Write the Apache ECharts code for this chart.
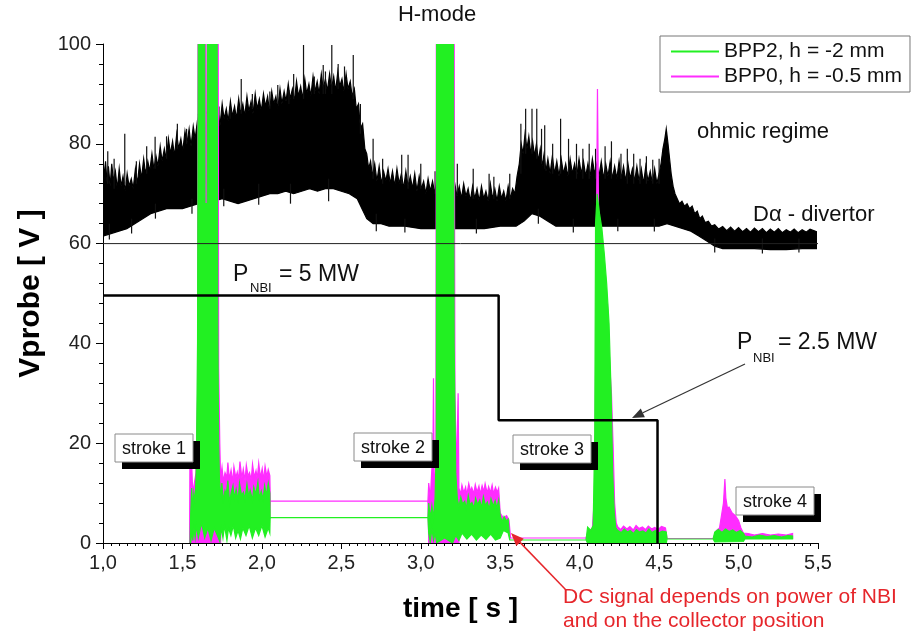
<!DOCTYPE html>
<html>
<head>
<meta charset="utf-8">
<script src="https://cdn.jsdelivr.net/npm/echarts@6/dist/echarts.min.js"></script>
<style>
  html, body { margin: 0; padding: 0; background: #fff; }
  #chart { width: 916px; height: 636px; }
</style>
</head>
<body>
<div id="chart"></div>
<script>
// ---- axis tick labels -------------------------------------------------
const xTickLabels = ['1,0', '1,5', '2,0', '2,5', '3,0', '3,5', '4,0', '4,5', '5,0', '5,5'];
const yTickLabels = ['0', '20', '40', '60', '80', '100'];

// ---- D-alpha divertor light (shifted onto the 60..100 V band) ---------
// upper edge of the dense part of the trace [t (s), level]
const daTop = [
  [1.000, 77.5], [1.008, 73], [1.016, 76.5], [1.026, 72], [1.034, 75.5], [1.045, 71.5], [1.055, 76],
  [1.066, 72.5], [1.078, 74.5], [1.090, 71], [1.102, 75], [1.114, 71.5], [1.126, 73.5], [1.140, 70.5],
  [1.152, 74], [1.164, 71.5], [1.178, 73], [1.190, 71], [1.204, 75], [1.216, 72], [1.230, 76],
  [1.242, 73], [1.256, 77], [1.268, 74], [1.282, 76.5], [1.294, 74.5], [1.308, 78], [1.320, 75],
  [1.334, 77.5], [1.346, 75.5], [1.360, 79.5], [1.372, 76.5], [1.386, 79], [1.398, 77], [1.412, 81],
  [1.424, 78], [1.438, 80.5], [1.450, 77.5], [1.464, 82], [1.476, 79], [1.490, 81], [1.502, 78.5],
  [1.516, 82.5], [1.528, 80], [1.542, 83], [1.554, 79.5], [1.568, 83.5], [1.580, 81], [1.594, 84.5],
  [1.606, 81.5], [1.620, 85], [1.632, 82], [1.646, 84], [1.658, 82.5], [1.672, 86], [1.684, 83],
  [1.698, 87], [1.710, 84], [1.724, 86.5], [1.736, 83.5], [1.750, 88], [1.762, 85], [1.776, 87],
  [1.788, 84.5], [1.802, 88.5], [1.814, 85.5], [1.828, 87.5], [1.840, 85], [1.854, 89], [1.866, 86],
  [1.880, 88], [1.892, 85.5], [1.906, 89.5], [1.918, 86.5], [1.932, 88.5], [1.944, 86], [1.958, 90],
  [1.970, 87], [1.984, 89], [1.996, 86.5], [2.010, 90], [2.022, 87.5], [2.036, 89.5], [2.048, 86.5],
  [2.062, 90.5], [2.074, 88], [2.088, 89.5], [2.100, 87], [2.114, 91], [2.126, 88], [2.140, 90.5],
  [2.152, 88.5], [2.166, 92], [2.178, 89], [2.192, 91], [2.204, 88.5], [2.218, 92.5], [2.230, 89.5],
  [2.244, 91.5], [2.256, 89], [2.270, 93], [2.282, 90], [2.296, 92], [2.308, 89.5], [2.322, 93.5],
  [2.334, 90.5], [2.348, 92.5], [2.360, 90], [2.374, 94], [2.386, 91], [2.400, 93], [2.412, 90.5],
  [2.426, 94], [2.438, 91], [2.452, 93.5], [2.464, 90.5], [2.478, 94.5], [2.490, 91.5], [2.504, 93],
  [2.516, 90.5], [2.530, 94], [2.542, 91], [2.556, 92.5], [2.568, 89.5], [2.582, 91], [2.594, 87],
  [2.608, 88], [2.620, 83], [2.634, 84], [2.648, 79], [2.660, 78], [2.672, 75], [2.684, 76.5],
  [2.696, 73.5], [2.710, 76], [2.724, 72.5], [2.738, 75.5], [2.752, 72], [2.766, 74.5], [2.780, 72.5],
  [2.794, 75], [2.808, 72], [2.822, 74.5], [2.836, 71.5], [2.850, 75], [2.864, 72], [2.878, 74],
  [2.892, 71], [2.906, 74.5], [2.920, 71.5], [2.934, 73.5], [2.948, 71], [2.962, 74], [2.976, 70.5],
  [2.990, 73.5], [3.004, 71], [3.018, 72.5], [3.032, 70], [3.046, 73], [3.060, 70.5], [3.074, 72.5],
  [3.088, 70], [3.102, 73], [3.116, 69.5], [3.130, 72], [3.144, 69.5], [3.158, 72.5], [3.172, 70],
  [3.186, 71.5], [3.200, 69], [3.214, 72], [3.228, 69.5], [3.242, 71.5], [3.256, 69], [3.270, 72],
  [3.284, 69.5], [3.298, 71], [3.312, 68.5], [3.326, 71.5], [3.340, 69], [3.354, 71], [3.368, 68.5],
  [3.382, 71.5], [3.396, 69], [3.410, 70.5], [3.424, 68.5], [3.438, 72], [3.452, 69], [3.466, 71],
  [3.480, 68.5], [3.494, 71.5], [3.508, 69], [3.522, 70.5], [3.536, 68.5], [3.550, 71.5], [3.564, 69],
  [3.578, 71], [3.592, 70], [3.606, 73.5], [3.620, 76], [3.632, 80], [3.644, 78], [3.656, 82],
  [3.668, 79], [3.680, 81.5], [3.692, 78], [3.704, 80.5], [3.716, 77.5], [3.728, 80], [3.740, 76.5],
  [3.752, 79], [3.764, 75.5], [3.776, 78], [3.788, 74.5], [3.800, 77], [3.814, 74], [3.828, 77.5],
  [3.842, 74], [3.856, 76.5], [3.870, 73.5], [3.884, 77], [3.898, 74], [3.912, 76], [3.926, 73.5],
  [3.940, 77], [3.954, 74], [3.968, 76], [3.982, 73.5], [3.996, 77], [4.010, 74], [4.024, 76.5],
  [4.038, 73.5], [4.052, 76], [4.066, 73.5], [4.080, 77], [4.094, 74], [4.108, 76], [4.122, 73.5],
  [4.136, 76.5], [4.150, 73], [4.164, 76], [4.178, 73.5], [4.192, 76.5], [4.206, 73], [4.220, 75.5],
  [4.234, 73], [4.248, 76.5], [4.262, 73], [4.276, 75.5], [4.290, 72.5], [4.304, 76], [4.318, 73],
  [4.332, 75], [4.346, 72.5], [4.360, 75.5], [4.374, 72.5], [4.388, 75], [4.402, 72], [4.416, 75.5],
  [4.430, 72.5], [4.444, 74.5], [4.458, 72], [4.472, 75], [4.486, 72], [4.500, 74], [4.512, 76],
  [4.524, 79], [4.536, 81], [4.545, 83], [4.556, 80], [4.566, 77], [4.576, 74], [4.588, 71.5],
  [4.600, 70], [4.614, 69], [4.628, 68], [4.644, 68.5], [4.660, 67.5], [4.676, 68], [4.692, 67],
  [4.708, 67.5], [4.724, 66], [4.740, 66.5], [4.756, 65], [4.772, 65.5], [4.790, 64.2], [4.810, 64.5],
  [4.830, 63.5], [4.850, 63.8], [4.875, 62.9], [4.900, 63.4], [4.925, 62.6], [4.950, 63.3],
  [4.975, 62.5], [5.000, 63.2], [5.025, 62.4], [5.050, 63], [5.075, 62.3], [5.100, 63.1], [5.125, 62.4],
  [5.150, 63], [5.175, 62.2], [5.200, 62.9], [5.225, 62.3], [5.250, 63], [5.275, 62.2], [5.300, 62.8],
  [5.325, 62.3], [5.350, 62.9], [5.375, 62.2], [5.400, 62.8], [5.425, 62.3], [5.450, 62.9], [5.490, 62.4]
];
// lower edge of the trace
const daBottom = [
  [1.000, 61.5], [1.050, 62], [1.100, 62.5], [1.150, 63], [1.200, 64], [1.250, 65], [1.300, 66],
  [1.350, 66.5], [1.400, 67], [1.450, 67], [1.500, 67], [1.550, 67.5], [1.600, 68], [1.650, 68],
  [1.700, 68.5], [1.750, 69], [1.800, 68.5], [1.850, 68], [1.900, 68.5], [1.950, 69], [2.000, 69.5],
  [2.050, 70], [2.100, 70], [2.150, 70.5], [2.200, 70], [2.250, 70.5], [2.300, 71], [2.350, 70.5],
  [2.400, 71], [2.450, 71], [2.500, 70.5], [2.550, 70], [2.600, 69], [2.630, 67], [2.660, 65],
  [2.700, 64], [2.750, 64], [2.800, 63.5], [2.900, 63.5], [3.000, 63], [3.100, 63], [3.200, 63],
  [3.300, 63], [3.400, 63], [3.500, 63.5], [3.600, 63.5], [3.650, 64.5], [3.700, 66], [3.750, 65.5],
  [3.800, 64.5], [3.850, 63.5], [3.900, 63.5], [4.000, 63.5], [4.100, 63.5], [4.200, 63.5],
  [4.300, 63.5], [4.400, 63.5], [4.500, 63.5], [4.550, 64], [4.600, 63.5], [4.650, 63], [4.700, 62.5],
  [4.750, 61.5], [4.800, 60.5], [4.850, 59.5], [4.900, 59], [5.000, 59], [5.100, 59], [5.200, 58.8],
  [5.300, 58.8], [5.400, 59], [5.490, 59]
];
// isolated excursions out of the dense part [t, base, tip]
const daSpikes = [
  [1.030, 72, 78.5], [1.070, 71, 77], [1.137, 72, 82], [1.210, 72, 76.5], [1.275, 74, 79.5],
  [1.328, 75, 81.4], [1.400, 77, 81.5], [1.468, 79, 84], [1.526, 80, 83], [1.600, 82, 86],
  [1.652, 83, 86.5], [1.730, 84, 87.5], [1.800, 85, 87.5], [1.870, 86, 93], [1.940, 87, 90],
  [2.050, 87, 90.5], [2.100, 88, 91.8], [2.170, 88, 90.8], [2.200, 89, 94], [2.262, 89, 99.8],
  [2.330, 90, 93.5], [2.386, 90, 95.8], [2.400, 90, 94.5], [2.440, 90, 99.8], [2.480, 91, 96],
  [2.520, 91, 95.5], [2.575, 89, 97.8], [2.620, 82, 88], [2.700, 73, 81], [2.760, 72, 77],
  [2.880, 72, 77.8], [2.920, 71, 77.8], [3.000, 71, 76], [3.090, 70, 74.5], [3.230, 70, 76],
  [3.330, 69, 75], [3.430, 69, 74], [3.460, 69, 73.4], [3.560, 69, 74], [3.630, 74, 84],
  [3.660, 78, 87], [3.700, 78, 87], [3.730, 77, 87], [3.760, 76, 83], [3.780, 75, 83.7],
  [3.830, 74, 80], [3.880, 74, 85], [3.930, 74, 81], [3.980, 73, 80], [4.020, 73, 79],
  [4.060, 73, 80], [4.100, 73, 79], [4.160, 73, 79.5], [4.200, 73, 80.5], [4.260, 73, 78],
  [4.300, 72, 79], [4.340, 72, 78], [4.380, 72, 77], [4.420, 72, 77.5], [4.460, 72, 76.8],
  [4.500, 72, 77],
  // downward excursions below the lower edge
  [1.040, 64, 60.8], [1.180, 65, 62], [1.330, 68, 65], [1.560, 69, 66], [1.760, 71, 67.5],
  [1.980, 72, 67.8], [2.180, 72, 68], [2.420, 73, 68.5], [2.720, 66, 62.5], [2.900, 65, 62.2],
  [3.120, 65, 62], [3.350, 65, 62], [3.740, 67, 64], [3.960, 65, 62.2], [4.240, 65, 62.5],
  [4.470, 65, 62.4], [4.850, 61, 58.2], [5.150, 61, 58], [5.380, 61, 58.2]
];

// ---- NBI heating power step (drawn on the voltage scale) -------------
const pnbi = [[1.0, 49.6], [3.49, 49.6], [3.49, 24.6], [4.49, 24.6], [4.49, 0]];
const refLevel = [[1.0, 60], [5.5, 60]];

// ---- probe BPP2, h = -2 mm --------------------------------------------
const bpp2Top = [
  [1.548, 0], [1.552, 6], [1.558, 11], [1.565, 7], [1.572, 10], [1.580, 8], [1.588, 16], [1.595, 40],
  [1.600, 105], [1.640, 105], [1.642, 68], [1.656, 68], [1.658, 105], [1.718, 105], [1.722, 45],
  [1.728, 20], [1.733, 12.5], [1.742, 9], [1.748, 12], [1.757, 8.5], [1.768, 10.5], [1.776, 9.8],
  [1.786, 12.5], [1.797, 8], [1.806, 10], [1.818, 11.5], [1.826, 9], [1.838, 10.8], [1.851, 8.5],
  [1.859, 12], [1.872, 9.5], [1.884, 10.2], [1.893, 8.8], [1.906, 11.8], [1.917, 9.3], [1.926, 10.6],
  [1.941, 8.6], [1.949, 11.2], [1.962, 9.8], [1.975, 12.2], [1.984, 9], [1.996, 10.4], [2.008, 8.7],
  [2.017, 11.5], [2.029, 9.6], [2.040, 12], [2.050, 10], [2.052, 5.1], [3.045, 5.1], [3.050, 8],
  [3.060, 5], [3.070, 7.5], [3.080, 5], [3.090, 9], [3.098, 20], [3.100, 105], [3.205, 105],
  [3.210, 40], [3.220, 14], [3.230, 9], [3.240, 7.2], [3.252, 9.2], [3.263, 7.8], [3.277, 8.4],
  [3.286, 6.9], [3.299, 9.5], [3.311, 7.6], [3.322, 8.1], [3.336, 7], [3.345, 9], [3.358, 7.7],
  [3.371, 8.6], [3.383, 7.1], [3.394, 9.3], [3.407, 7.5], [3.419, 8.2], [3.431, 6.8], [3.442, 8.9],
  [3.456, 7.4], [3.468, 8.5], [3.479, 7], [3.490, 8.6], [3.500, 5.5], [3.512, 4.2], [3.524, 5.3],
  [3.540, 4.4], [3.550, 4.8], [3.560, 0.6], [4.040, 0.6], [4.050, 3.2], [4.070, 2.5], [4.085, 3.5],
  [4.095, 22], [4.100, 64], [4.110, 70], [4.125, 66], [4.140, 63], [4.155, 58], [4.170, 52],
  [4.185, 44], [4.198, 30], [4.208, 14], [4.218, 6], [4.228, 3], [4.240, 2.5], [4.262, 2.1],
  [4.281, 2.8], [4.300, 2.2], [4.318, 2.5], [4.339, 1.9], [4.357, 2.7], [4.376, 2.2], [4.398, 2.4],
  [4.417, 2], [4.436, 2.8], [4.455, 2.1], [4.477, 2.5], [4.496, 2], [4.520, 2.4], [4.545, 2.2],
  [4.550, 0.8], [4.840, 0.8], [4.850, 2.2], [4.873, 2.7], [4.896, 2.1], [4.918, 2.8], [4.941, 2.3],
  [4.963, 2.6], [4.986, 2.1], [5.010, 2.5], [5.030, 2.0], [5.040, 1.4], [5.085, 1.2], [5.130, 1.6],
  [5.180, 1.3], [5.225, 1.5], [5.270, 1.2], [5.310, 1.5], [5.340, 1.4]
];
const bpp2Bottom = [
  [1.548, 0], [1.552, 0], [1.558, 2.5], [1.565, 0.5], [1.572, 3], [1.580, 1], [1.588, 3.5],
  [1.600, 1], [1.620, 4], [1.640, 1], [1.660, 3], [1.680, 0.5], [1.700, 3], [1.720, 1.5],
  [1.735, 0.3], [1.745, 3], [1.755, 1], [1.765, 3.5], [1.780, 0.5], [1.790, 3], [1.805, 1.5],
  [1.820, 3.5], [1.835, 1], [1.850, 2.5], [1.865, 0.8], [1.880, 3], [1.900, 1.5], [1.920, 3.5],
  [1.940, 1], [1.960, 3], [1.980, 1.5], [2.000, 3.5], [2.020, 1.2], [2.040, 3], [2.050, 2],
  [2.052, 5.1], [3.045, 5.1], [3.050, 2], [3.060, 0], [3.070, 3], [3.080, 0.5], [3.090, 2],
  [3.100, 0], [3.150, 1], [3.200, 0], [3.220, 1.5], [3.240, 0.5], [3.260, 2], [3.290, 0.8],
  [3.320, 1.8], [3.350, 0.6], [3.380, 1.6], [3.410, 0.7], [3.440, 1.8], [3.470, 0.6], [3.500, 1],
  [3.520, 2.5], [3.550, 2], [3.560, 0.6], [4.040, 0.6], [4.050, 0], [4.545, 0], [4.550, 0.8],
  [4.840, 0.8], [4.850, 0.2], [5.030, 0.3], [5.040, 0.8], [5.340, 0.8]
];

// ---- probe BPP0, h = -0.5 mm ------------------------------------------
const bpp0Top = [
  [1.545, 0], [1.547, 16], [1.552, 14], [1.558, 16], [1.565, 10], [1.575, 12], [1.585, 14],
  [1.595, 30], [1.598, 105], [1.645, 105], [1.647, 72], [1.653, 72], [1.655, 105], [1.725, 105],
  [1.728, 35], [1.735, 20], [1.740, 13], [1.749, 15.2], [1.757, 12.4], [1.768, 14.1], [1.779, 13.2],
  [1.786, 16.1], [1.795, 12.8], [1.806, 14.6], [1.817, 12.2], [1.824, 15.3], [1.836, 13.1],
  [1.845, 14.2], [1.853, 12.6], [1.862, 16.3], [1.874, 13], [1.883, 14.8], [1.894, 12.5],
  [1.902, 15.6], [1.913, 13.4], [1.922, 14.1], [1.933, 12.7], [1.941, 15.8], [1.952, 13.2],
  [1.963, 14.5], [1.971, 12.9], [1.980, 16], [1.991, 13.1], [2.002, 14.9], [2.011, 12.6],
  [2.020, 15.4], [2.031, 13.3], [2.040, 14.7], [2.050, 13.5], [2.053, 8.4], [3.045, 8.4],
  [3.050, 12], [3.060, 9], [3.070, 15], [3.075, 10], [3.080, 33], [3.085, 11], [3.095, 15],
  [3.098, 105], [3.210, 105], [3.215, 30], [3.225, 14], [3.235, 30], [3.240, 11], [3.251, 9.8],
  [3.259, 11.6], [3.271, 10.1], [3.282, 11.2], [3.290, 9.7], [3.302, 11.9], [3.313, 10.4],
  [3.321, 11.1], [3.334, 9.9], [3.343, 11.7], [3.354, 10.2], [3.366, 11.4], [3.374, 9.8],
  [3.386, 11.5], [3.397, 10.3], [3.405, 11.9], [3.418, 10], [3.427, 11.3], [3.438, 10.1],
  [3.449, 11.6], [3.458, 9.9], [3.470, 11.2], [3.481, 10.2], [3.490, 11], [3.500, 6],
  [3.520, 5], [3.540, 5.5], [3.555, 4.6], [3.565, 1.0], [4.040, 1.0], [4.050, 2], [4.080, 3],
  [4.095, 10], [4.105, 60], [4.112, 91], [4.118, 70], [4.125, 30], [4.135, 11], [4.150, 50],
  [4.160, 45], [4.175, 48], [4.190, 35], [4.200, 30], [4.210, 20], [4.220, 8], [4.230, 4],
  [4.240, 3.2], [4.258, 2.7], [4.276, 3.4], [4.297, 2.8], [4.316, 3.3], [4.337, 2.6], [4.355, 3.5],
  [4.373, 2.9], [4.395, 3.2], [4.414, 2.7], [4.432, 3.4], [4.453, 2.8], [4.472, 3.1], [4.494, 2.7],
  [4.515, 3.3], [4.540, 3], [4.550, 0.9], [4.840, 0.9], [4.860, 2.5], [4.880, 3], [4.895, 6],
  [4.905, 8], [4.914, 12.8], [4.920, 9], [4.930, 7], [4.940, 7.2], [4.960, 6], [4.980, 5.5],
  [5.000, 4.5], [5.015, 3], [5.030, 2], [5.060, 1.9], [5.100, 1.6], [5.150, 1.9], [5.200, 1.6],
  [5.250, 1.8], [5.300, 1.6], [5.340, 1.9]
];
const bpp0Bottom = [
  [1.545, 0], [1.740, 0], [1.745, 5], [2.050, 5], [2.053, 8.4], [3.045, 8.4], [3.050, 0],
  [3.240, 0], [3.245, 4], [3.490, 4], [3.500, 3], [3.555, 3], [3.565, 1.0], [4.040, 1.0],
  [4.050, 0], [4.240, 0], [4.245, 1], [4.540, 1], [4.550, 0.9], [4.840, 0.9], [4.860, 0.5],
  [5.030, 0.5], [5.040, 0.9], [5.340, 0.9]
];

const GREEN = '#22f022';
const MAGENTA = '#ff2cff';
const FONT = '"Liberation Sans", Arial, sans-serif';

// filled band between an upper and a lower edge, placed through the axes
function band(name, color, top, bottom, z) {
  return {
    type: 'custom', name: name, z: z, clip: true, silent: true,
    itemStyle: { color: color },
    data: [top[0]],
    renderItem: function (params, api) {
      const pts = top.map(function (p) { return api.coord(p); })
        .concat(bottom.slice().reverse().map(function (p) { return api.coord(p); }));
      return {
        type: 'polygon', shape: { points: pts },
        style: { fill: color, stroke: color, lineWidth: 1.2 }
      };
    }
  };
}

function arrow(x1, y1, x2, y2, color, w, head) {
  const a = Math.atan2(y2 - y1, x2 - x1);
  const bx = x2 - head * Math.cos(a), by = y2 - head * Math.sin(a);
  const px = -Math.sin(a) * head * 0.4, py = Math.cos(a) * head * 0.4;
  return [
    { type: 'line', z: 120, shape: { x1: x1, y1: y1, x2: bx, y2: by }, style: { stroke: color, lineWidth: w } },
    { type: 'polygon', z: 120, shape: { points: [[x2, y2], [bx + px, by + py], [bx - px, by - py]] }, style: { fill: color } }
  ];
}

function strokeBox(label, x, y) {
  return [
    { type: 'rect', z: 110, shape: { x: x + 7, y: y + 7, width: 78, height: 28 }, style: { fill: '#000' } },
    { type: 'rect', z: 111, shape: { x: x, y: y, width: 78, height: 28 }, style: { fill: '#fff', stroke: '#8a8a8a', lineWidth: 1 } },
    { type: 'text', z: 112, x: x + 39, y: y + 15, style: { text: label, font: '18px ' + FONT, fill: '#111', align: 'center', verticalAlign: 'middle' } }
  ];
}

function txt(s, x, y, size, color, align) {
  return { type: 'text', z: 115, x: x, y: y,
    style: { text: s, font: size + 'px ' + FONT, fill: color || '#111', align: align || 'left', verticalAlign: 'middle' } };
}

const chart = echarts.init(document.getElementById('chart'), null, { renderer: 'canvas' });

const graphics = []
  .concat([
    txt('H-mode', 437, 15, 22, '#111', 'center'),
    txt('ohmic regime', 697, 132, 22),
    txt('D\u03b1 - divertor', 753, 215, 22),
    txt('P', 233, 275, 23),
    txt('NBI', 250, 288, 13),
    txt('= 5 MW', 279, 275, 23),
    txt('P', 737, 343, 23),
    txt('NBI', 753, 358, 13),
    txt('= 2.5 MW', 778, 343, 23),
    txt('DC signal depends on power of NBI', 563, 597, 21, '#e6262b'),
    txt('and on the collector position', 563, 621, 21, '#e6262b')
  ])
  .concat(arrow(745, 364, 632, 418, '#333', 1.2, 12))
  .concat(arrow(566, 590, 511, 533, '#e6262b', 1.5, 13))
  .concat(strokeBox('stroke 1', 115, 434))
  .concat(strokeBox('stroke 2', 354, 433))
  .concat(strokeBox('stroke 3', 513, 435))
  .concat(strokeBox('stroke 4', 736, 487));

chart.setOption({
  animation: false,
  backgroundColor: '#fff',
  textStyle: { fontFamily: FONT },
  grid: { left: 103, right: 98, top: 44, bottom: 93 },
  legend: {
    data: [{ name: 'BPP2, h = -2 mm', icon: 'rect' }, { name: 'BPP0, h = -0.5 mm', icon: 'rect' }],
    orient: 'vertical', left: 660, top: 36,
    itemWidth: 48, itemHeight: 2, itemGap: 4,
    padding: [5, 8, 5, 11],
    borderColor: '#777', borderWidth: 1, backgroundColor: '#fff',
    textStyle: { fontSize: 21, color: '#111', fontFamily: FONT },
    selectedMode: false, z: 50
  },
  xAxis: {
    type: 'value', min: 1, max: 5.5, interval: 0.5,
    axisLine: { onZero: false, lineStyle: { color: '#000', width: 1 } },
    axisTick: { length: 6, lineStyle: { color: '#000' } },
    minorTick: { show: true, splitNumber: 10, length: 3, lineStyle: { color: '#000' } },
    splitLine: { show: false },
    axisLabel: { fontSize: 20, color: '#222', margin: 10,
      formatter: function (v) { return xTickLabels[Math.round((v - 1) / 0.5)]; } },
    name: 'time [ s ]', nameLocation: 'middle', nameGap: 52,
    nameTextStyle: { fontSize: 28, fontWeight: 'bold', color: '#000' }
  },
  yAxis: {
    type: 'value', min: 0, max: 100, interval: 20,
    axisLine: { show: true, lineStyle: { color: '#000', width: 1 } },
    axisTick: { show: true, length: 7, lineStyle: { color: '#000' } },
    minorTick: { show: true, splitNumber: 5, length: 4, lineStyle: { color: '#000' } },
    splitLine: { show: false },
    axisLabel: { fontSize: 20, color: '#222', margin: 12,
      formatter: function (v) { return yTickLabels[Math.round(v / 20)]; } },
    name: 'Vprobe [ V ]', nameLocation: 'middle', nameGap: 57,
    nameTextStyle: { fontSize: 30, fontWeight: 'bold', color: '#000' }
  },
  series: [
    band('D-alpha', '#000', daTop, daBottom, 2),
    {
      type: 'custom', name: 'D-alpha spikes', z: 3, clip: true, silent: true,
      data: daSpikes, encode: { x: 0, y: [1, 2] },
      renderItem: function (params, api) {
        const a = api.coord([api.value(0), api.value(1)]);
        const b = api.coord([api.value(0), api.value(2)]);
        return { type: 'line', shape: { x1: a[0], y1: a[1], x2: b[0], y2: b[1] },
          style: { stroke: '#111', lineWidth: 1.2 } };
      }
    },
    band('BPP0, h = -0.5 mm', MAGENTA, bpp0Top, bpp0Bottom, 4),
    band('BPP2, h = -2 mm', GREEN, bpp2Top, bpp2Bottom, 5),
    {
      type: 'line', name: 'ref', data: refLevel, z: 6, symbol: 'none', silent: true,
      lineStyle: { color: '#222', width: 1 }
    },
    {
      type: 'line', name: 'PNBI', data: pnbi, z: 7, symbol: 'none', silent: true,
      lineStyle: { color: '#000', width: 2.5 }
    }
  ],
  graphic: graphics
});
</script>
</body>
</html>
